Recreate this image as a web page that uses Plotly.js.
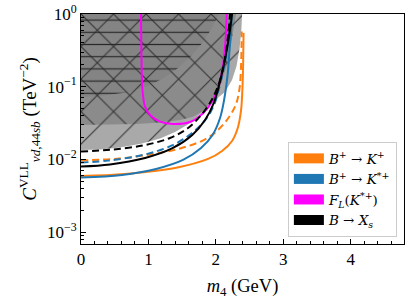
<!DOCTYPE html>
<html><head><meta charset="utf-8">
<script src="https://cdn.plot.ly/plotly-3.0.1.min.js"></script>
<style>html,body{margin:0;padding:0;background:#fff}#chart{width:411px;height:301px}</style>
</head><body><div id="chart"></div>
<script>
// ---- data (m4 in GeV, C in TeV^-2) ----
const bkSolidX = [0, 0.43, 0.95, 1.35, 1.65, 1.84, 1.97, 2.06, 2.145, 2.21, 2.24];
const bkSolidY = [0.00798, 0.00851, 0.01045, 0.01413, 0.02167, 0.0348, 0.0597, 0.116, 0.264, 0.602, 1.0];
const bkDashX = [0, 0.43, 0.92, 1.32, 1.588, 1.795, 1.929, 2.033, 2.114, 2.174, 2.211];
const bkDashY = [0.01284, 0.01355, 0.01553, 0.01969, 0.02704, 0.04209, 0.0636, 0.1023, 0.1927, 0.4388, 1.0];
const kstSolidX = [0, 0.608, 1.113, 1.513, 1.78, 1.951, 2.062, 2.122, 2.174, 2.203, 2.226, 2.233];
const kstSolidY = [0.00564, 0.0061, 0.00738, 0.00982, 0.01435, 0.02167, 0.0371, 0.0656, 0.1449, 0.3197, 0.6025, 1.0];
const kstDashX = [0, 0.401, 0.95, 1.35, 1.647, 1.855, 1.973, 2.033, 2.092, 2.151, 2.196, 2.218];
const kstDashY = [0.00906, 0.0096, 0.01168, 0.01553, 0.02307, 0.036, 0.056, 0.0846, 0.1403, 0.2644, 0.6025, 1.0];
const kSolidX = [0, 0.653, 1.395, 1.884, 2.092, 2.24, 2.329, 2.374, 2.393, 2.404, 2.408, 2.411];
const kSolidY = [0.00591, 0.0063, 0.00762, 0.01014, 0.01305, 0.01791, 0.0279, 0.0478, 0.0901, 0.1988, 0.3748, 0.548];
const kDashX = [0, 0.579, 1.068, 1.469, 1.84, 2.047, 2.196, 2.3, 2.352, 2.374, 2.381, 2.384];
const kDashY = [0.00966, 0.01028, 0.01187, 0.01413, 0.01879, 0.02618, 0.0383, 0.0578, 0.096, 0.1988, 0.3748, 0.574];
const flX = [0.89, 0.898, 0.912, 0.95, 1.024, 1.172, 1.365, 1.617, 1.81, 1.958, 2.047, 2.107, 2.144, 2.162];
const flY = [1.0, 0.2329, 0.0901, 0.0531, 0.0408, 0.033, 0.0307, 0.0327, 0.0431, 0.0656, 0.1055, 0.1988, 0.4388, 1.0];
// excluded regions (lower/right boundaries, closed along the top edge)
const lightX = [0, 0.282, 0.579, 0.905, 1.172, 1.395, 1.573, 1.721, 1.84, 1.988, 2.136, 2.24, 2.307, 2.352, 2.378, 2.389, 2.389, 0];
const lightY = [0.01346, 0.01368, 0.01458, 0.01655, 0.01939, 0.02381, 0.02972, 0.0383, 0.0478, 0.06566, 0.08455, 0.1237, 0.1926, 0.3405, 0.6024, 1.0, 1.3, 1.3];
const darkX = [0, 0.43, 0.831, 1.172, 1.469, 1.662, 1.81, 1.929, 2.018, 2.092, 2.151, 2.203, 2.248, 2.285, 2.3, 2.3, 0];
const darkY = [0.02972, 0.03, 0.03068, 0.03218, 0.03483, 0.03867, 0.04631, 0.0616, 0.08455, 0.1237, 0.1808, 0.3001, 0.5143, 0.827, 1.0, 1.3, 1.3];
const horizX = [0, 0.282, 0.727, 1.024, 1.172, 1.32, 1.439, 1.558, 1.647, 1.736, 1.81, 1.869, 1.914, 1.973, 2.018, 2.047, 2.047, 0];
const horizY = [0.0722, 0.0745, 0.08455, 0.1055, 0.1237, 0.1495, 0.1808, 0.2257, 0.2729, 0.3405, 0.412, 0.4982, 0.5836, 0.7287, 0.881, 1.0, 1.3, 1.3];
// legend
const legendNames = ['<i>B</i><sup>+</sup> → <i>K</i><sup>+</sup>', '<i>B</i><sup>+</sup> → <i>K</i><sup>*+</sup>',
  '<i>F<sub>L</sub></i>(<i>K</i><sup>*+</sup>)', '<i>B</i> → <i>X<sub>s</sub></i>'];
const legendColors = ['#ff7f0e', '#1f77b4', '#ff00ff', '#000000'];
const xTickVals = [0, 1, 2, 3, 4];
const yTickVals = [1, 0.1, 0.01, 0.001];
const yTickText = ['10<sup>0</sup>', '10<sup>−1</sup>', '10<sup>−2</sup>', '10<sup>−3</sup>'];

const yMinor = [];
[0.0001, 0.001, 0.01, 0.1].forEach(d => { for (let k = 2; k <= 9; k++) yMinor.push(d * k); });

const traces = [];
function region(x, y, bg, shape, size, sol, fg) {
  traces.push({x: x, y: y, type: 'scatter', mode: 'lines', fill: 'toself', showlegend: false, hoverinfo: 'skip',
    line: {width: 0, shape: 'linear'}, fillcolor: bg,
    fillpattern: {shape: shape, size: size, solidity: sol, fgcolor: fg, bgcolor: bg}});
}
region(lightX, lightY, '#a9a9a9', '/', 23, 0.047, '#333333');
region(darkX, darkY, 'rgba(60,60,60,0.28)', '\\', 23, 0.047, '#333333');
region(horizX, horizY, 'rgba(0,0,0,0.05)', '-', 12.2, 0.1, '#2a2a2a');

function curve(x, y, color, dash) {
  traces.push({x: x, y: y, type: 'scatter', mode: 'lines', showlegend: false, hoverinfo: 'skip',
    line: {color: color, width: 2, dash: dash, shape: 'spline', smoothing: 1}});
}
curve(kSolidX, kSolidY, legendColors[0], 'solid');
curve(kDashX, kDashY, legendColors[0], '7px,4px');
curve(kstSolidX, kstSolidY, legendColors[1], 'solid');
curve(kstDashX, kstDashY, legendColors[1], '7px,4px');
curve(flX, flY, legendColors[2], 'solid');
curve(bkSolidX, bkSolidY, legendColors[3], 'solid');
curve(bkDashX, bkDashY, legendColors[3], '7px,4px');

legendNames.forEach((n, i) => traces.push({x: [null], y: [null], type: 'scatter', mode: 'lines', name: n,
  line: {color: legendColors[i], width: 10}}));

const font = {family: 'Liberation Serif, DejaVu Serif, serif', size: 16, color: '#000'};
const layout = {
  width: 411, height: 301, margin: {l: 81, r: 7, t: 14, b: 57},
  paper_bgcolor: '#fff', plot_bgcolor: '#fff', font: font, showlegend: true,
  xaxis: {range: [0, 4.79], tickvals: xTickVals, ticks: 'inside', ticklen: 5, tickcolor: '#000',
    showline: true, mirror: true, linecolor: '#000', linewidth: 1, showgrid: false, zeroline: false,
    minor: {dtick: 0.2, tick0: 0, ticks: 'inside', ticklen: 3, tickcolor: '#000', showgrid: false},
    tickfont: {size: 17}, title: {text: '<i>m</i><sub>4</sub> (GeV)', font: {size: 18.5}, standoff: 10}},
  yaxis: {type: 'log', range: [-3.165, 0], tickvals: yTickVals, ticktext: yTickText, ticks: 'inside',
    ticklen: 5, tickcolor: '#000', showline: true, mirror: true, linecolor: '#000', linewidth: 1,
    showgrid: false, zeroline: false,
    minor: {tickvals: yMinor, ticks: 'inside', ticklen: 3, tickcolor: '#000', showgrid: false},
    tickfont: {size: 17},
    title: {text: '<i>C</i><sup>VLL</sup><sub><i>νd</i>,44<i>sb</i></sub> (TeV<sup>−2</sup>)', font: {size: 19}, standoff: 5}},
  legend: {x: 0.978, y: 0.03, xanchor: 'right', yanchor: 'bottom', bgcolor: 'rgba(255,255,255,0.85)',
    bordercolor: '#cccccc', borderwidth: 1, font: {family: 'DejaVu Serif, serif', size: 13.5}, itemwidth: 30, tracegroupgap: 0}
};
Plotly.newPlot('chart', traces, layout, {staticPlot: true});
</script></body></html>
